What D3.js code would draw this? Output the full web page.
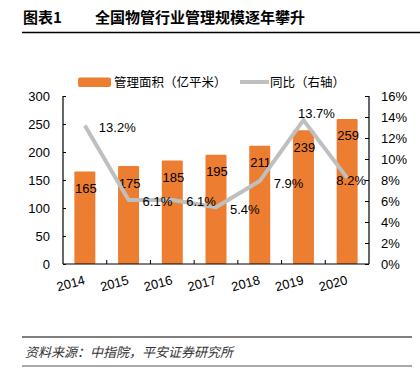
<!DOCTYPE html>
<html><head><meta charset="utf-8">
<script src="https://cdn.jsdelivr.net/npm/d3@7"></script>
<style>
body{margin:0;background:#fff;}
svg{display:block;}
text{font-family:"Liberation Sans","Noto Sans CJK SC",Arial,sans-serif;}
.cjk{font-family:"Noto Sans CJK SC","Liberation Sans",sans-serif;}
</style></head>
<body>
<svg id="c" width="420" height="378"></svg>
<script>
const years = ["2014","2015","2016","2017","2018","2019","2020"];
const area = [165,175,185,195,211,239,259];
const yoy = [13.2,6.1,6.1,5.4,7.9,13.7,8.2];
const leftTicks = [0,50,100,150,200,250,300];
const rightTicks = [0,2,4,6,8,10,12,14,16];
const titleNum = "图表1";
const titleText = "全国物管行业管理规模逐年攀升";
const legendBar = "管理面积（亿平米）";
const legendLine = "同比（右轴）";
const sourceText = "资料来源：中指院，平安证券研究所";

const svg = d3.select("#c");
const L = 63, R = 369, T = 96, B = 264;

// title
svg.append("text").attr("x",23).attr("y",23).attr("class","cjk")
  .attr("font-size",15).attr("font-weight","bold").attr("fill","#000").text(titleNum);
svg.append("text").attr("x",95).attr("y",23).attr("class","cjk")
  .attr("font-size",15).attr("font-weight","bold").attr("fill","#000").text(titleText);
svg.append("line").attr("x1",22).attr("x2",420).attr("y1",32.5).attr("y2",32.5)
  .attr("stroke","#000").attr("stroke-width",1.5);

// scales
const x = d3.scaleBand().domain(years).range([L,R]).paddingInner(0.52).paddingOuter(0.26);
const xc = d3.scaleBand().domain(years).range([L,R]);
const yL = d3.scaleLinear().domain([0,300]).range([B,T]);
const yR = d3.scaleLinear().domain([0,16]).range([B,T]);

// bars
svg.append("g").selectAll("rect").data(area).join("rect")
  .attr("x",(d,i)=>xc(years[i])+xc.bandwidth()/2-10.5)
  .attr("width",21)
  .attr("y",d=>yL(d)).attr("height",d=>B-yL(d))
  .attr("fill","#ED7D31").attr("rx",1);

// bar labels
svg.append("g").selectAll("text").data(area).join("text")
  .attr("x",(d,i)=>xc(years[i])+xc.bandwidth()/2+1)
  .attr("y",d=>yL(d)+21.5)
  .attr("text-anchor","middle").attr("font-size",13).attr("fill","#000").text(d=>d);

// line
const line = d3.line().x((d,i)=>xc(years[i])+xc.bandwidth()/2).y(d=>yR(d));
svg.append("path").datum(yoy).attr("d",line).attr("fill","none")
  .attr("stroke","#BFBFBF").attr("stroke-width",4).attr("stroke-linejoin","round");

// line labels
const maxI = yoy.indexOf(d3.max(yoy));
svg.append("g").selectAll("text").data(yoy).join("text")
  .each(function(d,i){
    const px = xc(years[i])+xc.bandwidth()/2, py = yR(d);
    const t = d3.select(this);
    if(i===maxI){ t.attr("x",px+13).attr("y",py-2.5).attr("text-anchor","middle"); }
    else if(i===yoy.length-1){ t.attr("x",px+4).attr("y",py+7.5).attr("text-anchor","middle"); }
    else { t.attr("x",px+14).attr("y",py+6.5).attr("text-anchor","start"); }
  })
  .attr("font-size",13).attr("fill","#000").text(d=>d.toFixed(1)+"%");

// axes
const axL = d3.axisLeft(yL).tickValues(leftTicks).tickSize(-3).tickPadding(13);
const gL = svg.append("g").attr("transform",`translate(${L},0)`).call(axL);
const axR = d3.axisRight(yR).tickValues(rightTicks).tickSize(-4).tickFormat(d=>d+"%").tickPadding(12);
const gR = svg.append("g").attr("transform",`translate(${R},0)`).call(axR);
const axB = d3.axisBottom(xc).tickValues([]).tickSize(0);
const gB = svg.append("g").attr("transform",`translate(0,${B})`).call(axB);
[gL,gR,gB].forEach(g=>{
  g.select(".domain").attr("stroke","#000").attr("stroke-width",1.2);
  g.selectAll(".tick line").attr("stroke","#000");
  g.selectAll(".tick text").attr("font-size",13).attr("fill","#000")
   .attr("font-family","'Liberation Sans',Arial,sans-serif");
});
gL.select(".domain").attr("d",`M0,${T}V${B}`);
gR.select(".domain").attr("d",`M0,${T}V${B}`);
gB.select(".domain").attr("d",`M${L},0H${R}`);
// x category ticks (inward)
svg.append("g").selectAll("line").data(years.slice(1)).join("line")
  .attr("x1",d=>xc(d)).attr("x2",d=>xc(d)).attr("y1",B).attr("y2",B-4)
  .attr("stroke","#000");
// x labels
svg.append("g").selectAll("text").data(years).join("text")
  .attr("transform",d=>`translate(${xc(d)+xc.bandwidth()/2+1},${B+20}) rotate(-15)`)
  .attr("text-anchor","end").attr("font-size",13).attr("fill","#000").text(d=>d);

// legend
svg.append("rect").attr("x",78).attr("y",77.5).attr("width",33).attr("height",9.5)
  .attr("rx",2).attr("fill","#ED7D31");
svg.append("text").attr("x",114).attr("y",87).attr("class","cjk").attr("font-size",12.5)
  .attr("fill","#000").text(legendBar);
svg.append("line").attr("x1",240).attr("x2",269).attr("y1",82).attr("y2",82)
  .attr("stroke","#BFBFBF").attr("stroke-width",4);
svg.append("text").attr("x",270).attr("y",87).attr("class","cjk").attr("font-size",12.5)
  .attr("fill","#000").text(legendLine);

// source
svg.append("line").attr("x1",22).attr("x2",412).attr("y1",337).attr("y2",337)
  .attr("stroke","#000").attr("stroke-width",1.2);
svg.append("text").attr("x",25).attr("y",357).attr("class","cjk").attr("font-size",13)
  .attr("font-style","italic").attr("fill","#333").text(sourceText);
svg.append("line").attr("x1",22).attr("x2",412).attr("y1",366).attr("y2",366)
  .attr("stroke","#555").attr("stroke-width",1.2);
</script>
</body></html>
